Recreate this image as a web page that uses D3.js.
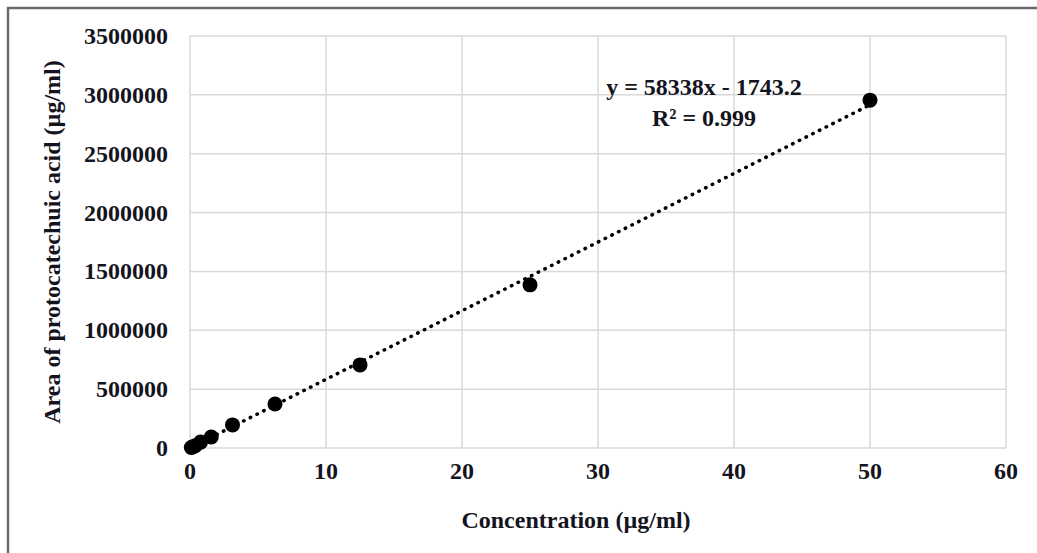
<!DOCTYPE html>
<html>
<head>
<meta charset="utf-8">
<script src="https://cdn.jsdelivr.net/npm/d3@7"></script>
<style>
  body { margin: 0; background: #fff; }
  text { font-family: "Liberation Serif", "Times New Roman", serif; font-weight: bold; fill: #141420; }
</style>
</head>
<body>
<script>
// concentration (µg/ml) and peak area
let concentration = [0.098, 0.195, 0.39, 0.78, 1.5625, 3.125, 6.25, 12.5, 25, 50];
let area = [4000, 9000, 20000, 50000, 94000, 196000, 374000, 706000, 1386000, 2955000];
let xTicks = [0, 10, 20, 30, 40, 50, 60];
let yTicks = [0, 500000, 1000000, 1500000, 2000000, 2500000, 3000000, 3500000];
let slope = 58338, intercept = -1743.2;

let W = 1037, H = 553;
let margin = { top: 36, left: 190, right: 31, bottom: 105 };

let svg = d3.select('body').append('svg').attr('width', W).attr('height', H);

// outer frame
svg.append('rect').attr('x', 8).attr('y', 8).attr('width', W + 20).attr('height', H + 20)
  .attr('fill', 'none').attr('stroke', '#6b6b6b').attr('stroke-width', 2.5);

let x = d3.scaleLinear().domain([0, 60]).range([margin.left, W - margin.right]);
let y = d3.scaleLinear().domain([0, 3500000]).range([H - margin.bottom, margin.top]);

// gridlines
svg.append('g').selectAll('line').data(xTicks).enter().append('line')
  .attr('x1', d => x(d)).attr('x2', d => x(d))
  .attr('y1', y(0)).attr('y2', y(3500000))
  .attr('stroke', '#d9d9d9').attr('stroke-width', 1.5);
svg.append('g').selectAll('line').data(yTicks).enter().append('line')
  .attr('x1', x(0)).attr('x2', x(60))
  .attr('y1', d => y(d)).attr('y2', d => y(d))
  .attr('stroke', '#d9d9d9').attr('stroke-width', 1.5);

// tick labels
svg.append('g').selectAll('text').data(xTicks).enter().append('text')
  .attr('x', d => x(d)).attr('y', y(0) + 31)
  .attr('text-anchor', 'middle').style('font-size', '24px')
  .text(d => d);
svg.append('g').selectAll('text').data(yTicks).enter().append('text')
  .attr('x', 168).attr('y', d => y(d) + 8)
  .attr('text-anchor', 'end').style('font-size', '24px')
  .text(d => d);

// axis titles
svg.append('text').attr('x', 576).attr('y', 528).attr('text-anchor', 'middle')
  .style('font-size', '24px').text('Concentration (µg/ml)');
svg.append('text').attr('transform', 'translate(60,242) rotate(-90)').attr('text-anchor', 'middle')
  .style('font-size', '24px').text('Area of protocatechuic acid (µg/ml)');

// linear trendline
let fit = [0, 50].map(c => [c, slope * c + intercept]);
svg.append('path').datum(fit)
  .attr('d', d3.line().x(d => x(d[0])).y(d => y(Math.max(d[1], 0))))
  .attr('fill', 'none').attr('stroke', '#000').attr('stroke-width', 3.5)
  .attr('stroke-dasharray', '0.5,7').attr('stroke-linecap', 'round');

// points
svg.append('g').selectAll('circle').data(concentration).enter().append('circle')
  .attr('cx', d => x(d)).attr('cy', (d, i) => y(area[i]))
  .attr('r', 7.5).attr('fill', '#000');

// equation
svg.append('text').attr('x', 704).attr('y', 95).attr('text-anchor', 'middle')
  .style('font-size', '24px').text('y = 58338x - 1743.2');
svg.append('text').attr('x', 704).attr('y', 126).attr('text-anchor', 'middle')
  .style('font-size', '24px').text('R² = 0.999');
</script>
</body>
</html>
